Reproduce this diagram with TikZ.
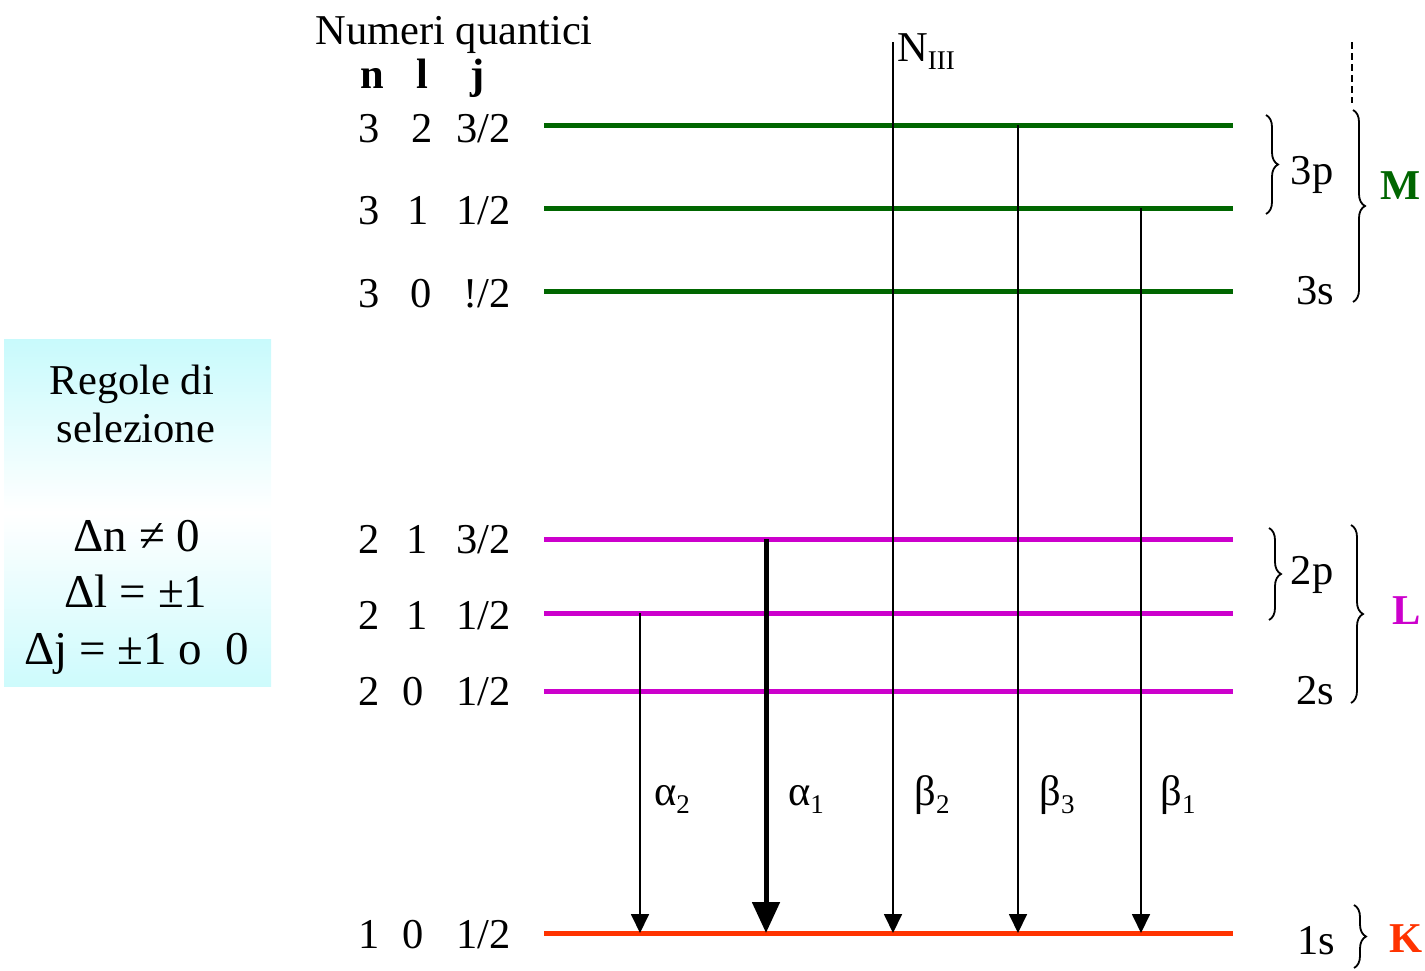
\documentclass[tikz,border=0pt]{standalone}
\usepackage{fontspec}
\setmainfont{Liberation Serif}
\usetikzlibrary{arrows.meta,decorations.pathreplacing}
\definecolor{mgreen}{HTML}{006600}
\definecolor{mmag}{HTML}{CC00CC}
\definecolor{mred}{HTML}{FF3300}
\definecolor{boxcyan}{HTML}{C8FAFC}
\newcommand\subx[1]{\raisebox{-8pt}{\fontsize{27}{30}\selectfont #1}}
\begin{document}
\begin{tikzpicture}[x=1pt,y=-1pt,
  txt/.style={font=\fontsize{42.5}{48}\selectfont, inner sep=0pt, anchor=base},
  rule/.style={txt, font=\fontsize{47}{52}\selectfont},
  bold/.style={txt, font=\fontsize{42.5}{48}\selectfont\bfseries},
  lev/.style={line width=5pt},
  tr/.style={line width=1.8pt, -{Triangle[width=18pt,length=19pt]}},
  trthick/.style={line width=5pt, -{Triangle[width=27pt,length=31pt]}},
  brc/.style={line width=1.8pt, decorate, decoration={brace, amplitude=12pt}}]
\useasboundingbox (0,0) rectangle (1425,970);

% selection rules box
\shade[top color=boxcyan, bottom color=boxcyan!90!white, middle color=white] (4,339) rectangle (271,686);
\node[txt] (r1) at (132,394) {Regole di};
\node[txt] (r2) at (136,442) {selezione};
\node[rule] (r3) at (137,551) {Δn ≠ 0};
\node[rule] (r4) at (136,607) {Δl = ±1};
\node[rule] (r5) at (137,664) {Δj = ±1 o\ \ 0};

% header
\node[txt] (hdr) at (454,44) {Numeri quantici};
\node[bold] (hn) at (372,88) {n};
\node[bold] (hl) at (422,88) {l};
\node[bold] (hj) at (478,88) {j};

% quantum numbers
\foreach \y/\n/\l/\lx/\j/\name in {142/3/2/422/3\slash 2/q1, 224/3/1/418/1\slash 2/q2, 307/3/0/421/!\slash 2/q3,
  553/2/1/417/3\slash 2/q4, 629/2/1/417/1\slash 2/q5, 705/2/0/413/1\slash 2/q6, 948/1/0/413/1\slash 2/q7}{
  \node[txt] (\name n) at (369,\y) {\n};
  \node[txt] (\name l) at (\lx,\y) {\l};
  \node[txt, anchor=base east] (\name j) at (511,\y) {\j};
}

% levels
\foreach \y/\c/\name in {125/mgreen/m1, 208/mgreen/m2, 291/mgreen/m3, 539/mmag/l1, 613/mmag/l2, 691/mmag/l3, 933/mred/k1}{
  \coordinate (\name l) at (544,\y);
  \coordinate (\name r) at (1233,\y);
  \draw[lev, \c] (\name l) -- (\name r);
}

% transitions
\coordinate (ntop) at (893,42);
\coordinate (a2s) at (640,613);  \coordinate (a2e) at (640,933);
\coordinate (a1s) at (766,539);  \coordinate (a1e) at (766,933);
\coordinate (b2e) at (893,933);
\coordinate (b3s) at (1018,125); \coordinate (b3e) at (1018,933);
\coordinate (b1s) at (1141,208); \coordinate (b1e) at (1141,933);
\draw[tr] (a2s) -- (a2e);
\draw[trthick] (a1s) -- (a1e);
\draw[tr] (ntop) -- (b2e);
\draw[tr] (b3s) -- (b3e);
\draw[tr] (b1s) -- (b1e);

\node[txt, anchor=base west] (nIII) at (897,61) {N\subx{III}};
\node[txt] (la2) at (672,805) {α\subx{2}};
\node[txt] (la1) at (806,805) {α\subx{1}};
\node[txt] (lb2) at (932,805) {β\subx{2}};
\node[txt] (lb3) at (1057,805) {β\subx{3}};
\node[txt] (lb1) at (1178,805) {β\subx{1}};

% right side: M shell
\coordinate (dtop) at (1352,42);
\coordinate (dbot) at (1352,103);
\draw[line width=1.6pt, dash pattern=on 7pt off 4pt] (dtop) -- (dbot);
\draw[brc] (1266,115) -- (1266,214);
\node[txt] (l3p) at (1312,184) {3p};
\node[txt] (l3s) at (1315,304) {3s};
\draw[brc] (1353,110) -- (1353,302);
\node[bold, mgreen] (lM) at (1401,199) {M};

% L shell
\draw[brc] (1269,528) -- (1269,620);
\node[txt] (l2p) at (1312,584) {2p};
\node[txt] (l2s) at (1315,704) {2s};
\draw[brc] (1351,525) -- (1351,703);
\node[bold, mmag] (lL) at (1407,624) {L};

% K shell
\node[txt] (l1s) at (1316,954) {1s};
\draw[brc] (1354,905) -- (1354,968);
\node[bold, mred] (lK) at (1406,952) {K};
\end{tikzpicture}
\end{document}
